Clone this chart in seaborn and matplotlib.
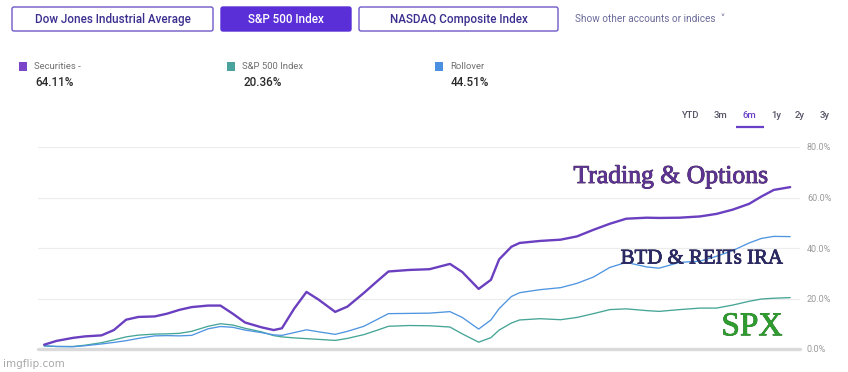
import matplotlib
matplotlib.use("Agg")
import matplotlib.pyplot as plt
import matplotlib.patheffects as pe
from matplotlib.patches import FancyBboxPatch, Rectangle
import seaborn as sns
import pandas as pd

# ---------------- data ----------------
days = [0, 3, 7, 10, 14, 17, 20, 23, 27, 30, 33, 36, 40, 43, 46, 49, 53, 56,
        58, 61, 64, 67, 71, 74, 78, 81, 84, 89, 94, 99, 102, 106, 109, 111,
        114, 116, 121, 126, 130, 134, 138, 142, 147, 150, 155, 160, 164, 168,
        172, 175, 178, 182]

securities = [1.7, 3.2, 4.4, 5.0, 5.4, 7.5, 11.6, 12.7, 12.9, 14.0, 15.5, 16.6,
              17.2, 17.2, 14.0, 10.5, 8.6, 7.5, 8.2, 16.0, 22.6, 19.5, 14.7,
              16.8, 22.2, 26.5, 30.7, 31.3, 31.6, 33.7, 30.5, 23.8, 27.4, 35.5,
              40.5, 42.0, 42.8, 43.3, 44.6, 47.2, 49.6, 51.6, 52.0, 51.9, 52.0,
              52.5, 53.5, 55.2, 57.5, 60.4, 63.0, 64.11]

rollover = [1.3, 1.0, 0.9, 1.3, 2.0, 2.6, 3.3, 4.2, 5.2, 5.3, 5.2, 5.4, 8.0,
            8.9, 8.6, 7.5, 6.5, 5.6, 5.4, 6.5, 7.6, 6.8, 5.8, 7.0, 9.0, 11.5,
            14.0, 14.1, 14.2, 14.8, 12.5, 7.9, 11.5, 16.0, 20.8, 22.3, 23.5,
            24.3, 26.0, 28.5, 32.3, 34.3, 32.5, 32.0, 34.3, 34.8, 36.7, 39.0,
            42.0, 43.8, 44.6, 44.51]

sp500 = [1.2, 1.0, 1.0, 1.5, 2.5, 3.6, 4.8, 5.5, 5.9, 6.0, 6.2, 7.0, 9.0,
         10.0, 9.5, 8.2, 6.8, 5.3, 4.8, 4.4, 4.1, 3.8, 3.4, 4.2, 5.7, 7.3,
         9.0, 9.3, 9.2, 8.7, 6.0, 2.7, 4.5, 7.5, 10.3, 11.5, 12.0, 11.6,
         12.5, 14.0, 15.6, 15.9, 15.2, 14.9, 15.6, 16.2, 16.2, 17.4, 18.9,
         19.8, 20.1, 20.36]

series_names = ["Securities -", "S&P 500 Index", "Rollover"]
series_totals = ["64.11%", "20.36%", "44.51%"]
y_ticks = [0, 20, 40, 60, 80]
y_tick_labels = ["0.0%", "20.0%", "40.0%", "60.0%", "80.0%"]
buttons = ["Dow Jones Industrial Average", "S&P 500 Index", "NASDAQ Composite Index"]
ranges = ["YTD", "3m", "6m", "1y", "2y", "3y"]

PURPLE = "#6a3fc0"
TEAL = "#45a597"
BLUE = "#4f95e0"

df = pd.DataFrame({"day": days, "Securities": securities,
                   "Rollover": rollover, "SP500": sp500})

# ---------------- figure ----------------
sns.set_style("white")
plt.rcParams["font.family"] = ["Roboto", "DejaVu Sans"]

W, H = 848, 372
fig = plt.figure(figsize=(W / 100, H / 100), dpi=100)
fig.patch.set_facecolor("white")

ax_l, ax_r, ax_t, ax_b = 38, 800, 147, 349
ax = fig.add_axes([ax_l / W, (H - ax_b) / H, (ax_r - ax_l) / W, (ax_b - ax_t) / H])
ax.set_facecolor("none")

sns.lineplot(data=df, x="day", y="SP500", ax=ax, color=TEAL, linewidth=0.95)
sns.lineplot(data=df, x="day", y="Rollover", ax=ax, color=BLUE, linewidth=0.95)
sns.lineplot(data=df, x="day", y="Securities", ax=ax, color=PURPLE, linewidth=1.7)
for ln in ax.lines:
    ln.set_solid_capstyle("round")
    ln.set_solid_joinstyle("round")

ax.set_xlim(-1.5, 184.4)
ax.set_ylim(0, 80)
ax.set_yticks(y_ticks)
ax.set_yticklabels(y_tick_labels)
ax.yaxis.tick_right()
ax.tick_params(axis="y", length=0, pad=5, labelsize=6.5, labelcolor="#9a9a9a")
ax.set_xticks([])
ax.set_xlabel("")
ax.set_ylabel("")
for s in ax.spines.values():
    s.set_visible(False)
for v in y_ticks[1:]:
    ax.axhline(v, color="#ececec", linewidth=0.8, zorder=0)
ax.axhline(0, color="#dadada", linewidth=2.4, zorder=0, clip_on=False)

# overlay axes for UI elements in pixel coordinates
ov = fig.add_axes([0, 0, 1, 1])
ov.set_xlim(0, W)
ov.set_ylim(H, 0)
ov.axis("off")
ov.patch.set_visible(False)

# buttons
btn_boxes = [(12, 213), (221, 351), (359, 558)]
for i, (name, (x0, x1)) in enumerate(zip(buttons, btn_boxes)):
    active = i == 1
    box = FancyBboxPatch((x0, 7), x1 - x0, 24,
                         boxstyle="round,pad=0,rounding_size=2",
                         facecolor="#5a2fd8" if active else "white",
                         edgecolor="#5a2fd8" if active else "#6e58c8",
                         linewidth=1.0)
    ov.add_patch(box)
    ov.text((x0 + x1) / 2, 19.5, name, ha="center", va="center",
            fontsize=8.4, fontweight="medium",
            color="white" if active else "#3a2f8f")
ov.text(575, 19.5, "Show other accounts or indices  \u02c5", ha="left",
        va="center", fontsize=7.2, color="#6a6a9a")

# legend items
leg_x = [20, 228, 436]
leg_colors = ["#7a45c8", "#4aa39c", "#4a8fe0"]
for x0, name, tot, c in zip(leg_x, series_names, series_totals, leg_colors):
    ov.add_patch(Rectangle((x0 - 1, 62), 8, 9, facecolor=c, edgecolor="none"))
    ov.text(x0 + 14, 66.5, name, ha="left", va="center", fontsize=6.8,
            color="#707070")
    ov.text(x0 + 15, 82, tot, ha="left", va="center", fontsize=8.4,
            color="#2a2a2a", fontweight="medium")

# time range selector
range_x = [690, 721, 749, 776, 800, 825]
for x0, r in zip(range_x, ranges):
    sel = r == "6m"
    ov.text(x0, 116, r, ha="center", va="center", fontsize=6.8,
            fontweight="medium", color="#6a3fc8" if sel else "#555566")
ov.plot([736, 764], [126.5, 126.5], color="#6a3fc8", linewidth=1.6,
        solid_capstyle="butt")

# meme captions
serif = ["Liberation Serif", "DejaVu Serif"]
ov.text(671, 177, "Trading & Options", ha="center", va="center",
        fontsize=18.5, family=serif, color="#5e3392",
        path_effects=[pe.withStroke(linewidth=0.6, foreground="#3a2650"),
                      pe.Normal()])
ov.text(702, 259, "BTD & REITs IRA", ha="center", va="center",
        fontsize=15, family=serif, color="#2c2a66",
        path_effects=[pe.withStroke(linewidth=0.5, foreground="#1e1e40"),
                      pe.Normal()])
ov.text(752, 327, "SPX", ha="center", va="center", fontsize=24,
        family=serif, color="#2f9c2f",
        path_effects=[pe.withStroke(linewidth=0.5, foreground="#1f5f1f"),
                      pe.Normal()])

# watermark
ov.text(3, 364, "imgflip.com", ha="left", va="center", fontsize=7.5,
        color="#a8a8a8", family=["DejaVu Sans"])

fig.savefig("out.png", dpi=100, facecolor="white")
